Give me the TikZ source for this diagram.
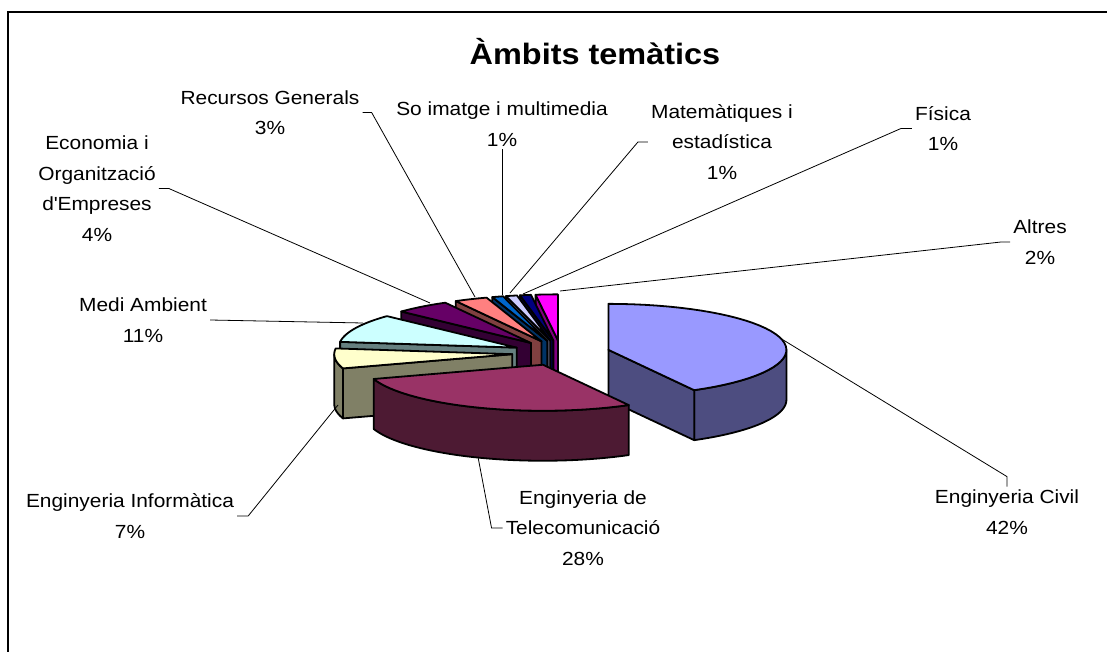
\documentclass[tikz,border=0pt]{standalone}
\usepackage{fontspec}
\setmainfont[FakeStretch=1.1]{Liberation Sans}
\definecolor{civiltop}{HTML}{9999FF}
\definecolor{civilside}{HTML}{4D4D80}
\definecolor{telecomtop}{HTML}{993366}
\definecolor{telecomside}{HTML}{4D1A33}
\definecolor{infotop}{HTML}{FFFFCC}
\definecolor{infoside}{HTML}{808066}
\definecolor{meditop}{HTML}{CCFFFF}
\definecolor{mediside}{HTML}{668080}
\definecolor{ecotop}{HTML}{660066}
\definecolor{ecoside}{HTML}{330033}
\definecolor{recursostop}{HTML}{FF8080}
\definecolor{recursosside}{HTML}{804040}
\definecolor{sotop}{HTML}{0066CC}
\definecolor{soside}{HTML}{003366}
\definecolor{mattop}{HTML}{CCCCFF}
\definecolor{matside}{HTML}{666680}
\definecolor{fisicatop}{HTML}{000080}
\definecolor{fisicaside}{HTML}{000040}
\definecolor{altrestop}{HTML}{FF00FF}
\definecolor{altresside}{HTML}{800080}
\tikzset{
  pieedge/.style={draw=black, line width=1.8pt, line join=round},
  leader/.style={draw=black, line width=0.8pt},
  lab/.style={align=center, inner sep=3pt, font=\fontsize{19}{30.5}\selectfont},
}
\newcommand{\pieapex}[2]{%
  \pgfmathsetmacro{\pmid}{(#1+#2)/2}%
  \pgfmathsetmacro{\apx}{561+0.275*178*cos(\pmid)}%
  \pgfmathsetmacro{\apy}{353-0.275*46*sin(\pmid)}}
\newcommand{\pietop}[3]{%
  \filldraw [pieedge, fill=#3] (\apx,\apy) -- plot [domain=#1:#2, samples=40] ({\apx+178*cos(\x)}, {\apy-46*sin(\x)}) -- cycle;}
\newcommand{\pieside}[3]{%
  \filldraw [pieedge, fill=#3] plot [domain=#1:#2, samples=40] ({\apx+178*cos(\x)}, {\apy-46*sin(\x)}) -- plot [domain=#2:#1, samples=40] ({\apx+178*cos(\x)}, {\apy+50-46*sin(\x)}) -- cycle;}
\newcommand{\piecut}[2]{%
  \filldraw [pieedge, fill=#2] (\apx,\apy) -- ({\apx+178*cos(#1)}, {\apy-46*sin(#1)}) -- ++(0,50) -- (\apx,{\apy+50}) -- cycle;}
\begin{document}
\begin{tikzpicture}[x=1pt, y=-1pt]
\useasboundingbox (0,0) rectangle (1107,652);
\draw [line width=1.5pt] (8,652) -- (8,12) -- (1107,12);
\node (title) [font=\fontsize{29.5}{34}\selectfont\bfseries] at (595,52) {Àmbits temàtics};
\pieapex{90}{97.2} \piecut{97.2}{altresside} \pietop{90}{97.2}{altrestop}
\pieapex{97.2}{100.8} \piecut{100.8}{fisicaside} \pietop{97.2}{100.8}{fisicatop}
\pieapex{100.8}{104.4} \piecut{104.4}{matside} \pietop{100.8}{104.4}{mattop}
\pieapex{104.4}{108} \piecut{108}{soside} \pietop{104.4}{108}{sotop}
\pieapex{108}{118.8} \piecut{118.8}{recursosside} \pietop{108}{118.8}{recursostop}
\pieapex{118.8}{136.8} \piecut{136.8}{ecoside} \pietop{118.8}{136.8}{ecotop}
\pieapex{136.8}{172.8} \piecut{172.8}{mediside} \pietop{136.8}{172.8}{meditop}
\pieapex{-61.2}{90} \pieside{-61.2}{0}{civilside} \piecut{-61.2}{civilside} \pietop{-61.2}{90}{civiltop}
\pieapex{172.8}{198} \pieside{180}{198}{infoside} \piecut{198}{infoside} \pietop{172.8}{198}{infotop}
\pieapex{198}{298.8} \pieside{198}{298.8}{telecomside} \pietop{198}{298.8}{telecomtop}
\coordinate (recursos-tip) at (475,297);
\coordinate (so-tip) at (502,295);
\coordinate (mat-tip) at (510,293);
\coordinate (fisica-tip) at (523,294);
\coordinate (altres-tip) at (560,291);
\coordinate (eco-tip) at (430,303);
\coordinate (medi-tip) at (363,323);
\coordinate (info-tip) at (338,405);
\coordinate (telecom-tip) at (478,457);
\coordinate (civil-tip) at (780,338);
\node (recursos) [lab] at (270,112.5) {Recursos Generals\\3\%};
\node (so) [lab] at (502,124) {So imatge i multimedia\\1\%};
\node (mat) [lab] at (722,142) {Matemàtiques i\\estadística\\1\%};
\node (fisica) [lab] at (943,128.5) {Física\\1\%};
\node (altres) [lab] at (1040,242) {Altres\\2\%};
\node (eco) [lab] at (97,188.5) {Economia i\\Organització\\d\textquotesingle Empreses\\4\%};
\node (medi) [lab] at (143,320) {Medi Ambient\\11\%};
\node (info) [lab] at (130,516) {Enginyeria Informàtica\\7\%};
\node (telecom) [lab] at (583,528) {Enginyeria de\\Telecomunicació\\28\%};
\node (civil) [lab] at (1007,512) {Enginyeria Civil\\42\%};
\draw [leader] (recursos.east) -- ++(9,0) -- (recursos-tip);
\draw [leader] (so.south) -- (so-tip);
\draw [leader] (mat.west) -- ++(-10,0) -- (mat-tip);
\draw [leader] (fisica.west) -- ++(-11,0) -- (fisica-tip);
\draw [leader] (altres.west) -- ++(-9,0) -- (altres-tip);
\draw [leader] (eco.east) -- ++(10,0) -- (eco-tip);
\draw [leader] (medi.east) -- (medi-tip);
\draw [leader] (info.east) -- ++(11,0) -- (info-tip);
\draw [leader] (telecom.west) -- ++(-11,0) -- (telecom-tip);
\draw [leader] (civil.north) -- ++(0,-10) -- (civil-tip);
\end{tikzpicture}
\end{document}
